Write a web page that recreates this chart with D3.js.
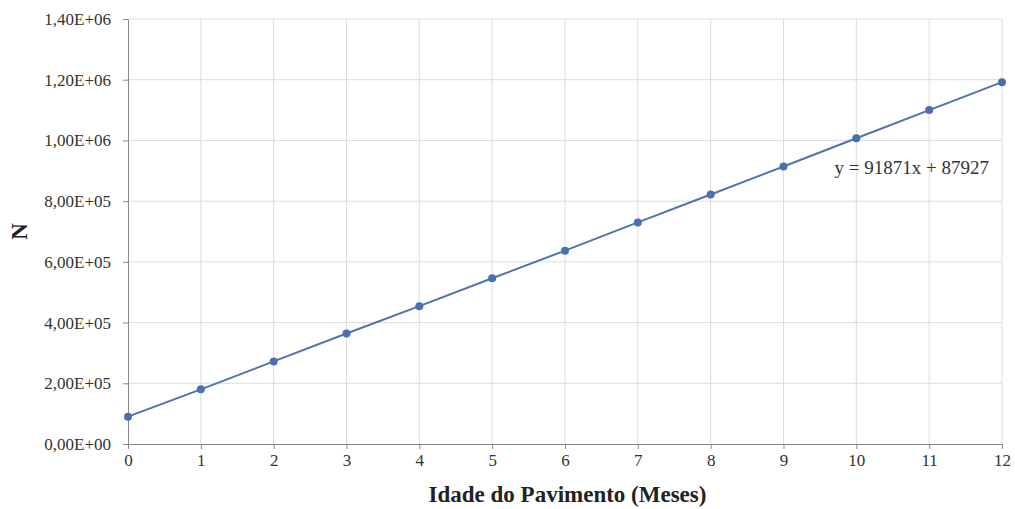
<!DOCTYPE html>
<html>
<head>
<meta charset="utf-8">
<script src="https://cdn.jsdelivr.net/npm/d3@7"></script>
<style>
  body { margin: 0; background: #fff; }
  svg { display: block; }
  text { font-family: "Liberation Serif", "Times New Roman", serif; }
</style>
</head>
<body>
<div id="chart"></div>
<script>
// months since pavement opening and cumulative N
const months = [0, 1, 2, 3, 4, 5, 6, 7, 8, 9, 10, 11, 12];
const nValues = [90000, 180000, 272000, 364000, 454000, 546000, 637000, 730000, 822000, 914000, 1007000, 1100000, 1192000];
const yTicks = [0, 200000, 400000, 600000, 800000, 1000000, 1200000, 1400000];
const equation = 'y = 91871x + 87927';

const width = 1015;
const height = 509;
const margin = { top: 19, right: 13, bottom: 65, left: 128 };
const innerWidth = width - margin.left - margin.right;
const innerHeight = height - margin.top - margin.bottom;

const svg = d3.select('#chart')
  .append('svg')
  .attr('width', width)
  .attr('height', height)
  .append('g')
  .attr('transform', `translate(${margin.left},${margin.top})`);

const x = d3.scaleLinear().domain([0, 12]).range([0, innerWidth]);
const y = d3.scaleLinear().domain([0, 1400000]).range([innerHeight, 0]);

const fmt = v => {
  const [m, e] = v.toExponential(2).split('e');
  const exp = (e[0] === '-' ? '-' : '+') + e.replace(/[+-]/, '').padStart(2, '0');
  return m.replace('.', ',') + 'E' + exp;
};

// grid
svg.append('g')
  .selectAll('line')
  .data(yTicks.slice(1))
  .enter().append('line')
  .attr('x1', 0).attr('x2', innerWidth)
  .attr('y1', d => y(d)).attr('y2', d => y(d))
  .attr('stroke', '#dcdcdc').attr('stroke-width', 1);

svg.append('g')
  .selectAll('line')
  .data(months.slice(1))
  .enter().append('line')
  .attr('x1', d => x(d)).attr('x2', d => x(d))
  .attr('y1', 0).attr('y2', innerHeight)
  .attr('stroke', '#dcdcdc').attr('stroke-width', 1);

// axes
const xAxis = svg.append('g')
  .attr('transform', `translate(0,${innerHeight})`)
  .call(d3.axisBottom(x).tickValues(months).tickFormat(d3.format('d')).tickSize(5).tickSizeOuter(0));
xAxis.attr('font-family', '"Liberation Serif", serif').attr('font-size', 17);
xAxis.select('.domain').attr('stroke', '#888');
xAxis.selectAll('.tick line').attr('stroke', '#888');
xAxis.selectAll('text')
  .attr('y', 10)
  .attr('fill', '#333');

const yAxis = svg.append('g')
  .call(d3.axisLeft(y).tickValues(yTicks).tickFormat(fmt).tickSize(5).tickSizeOuter(0));
yAxis.attr('font-family', '"Liberation Serif", serif').attr('font-size', 17);
yAxis.select('.domain').attr('stroke', '#888');
yAxis.selectAll('.tick line').attr('stroke', '#888');
yAxis.selectAll('text')
  .attr('x', -17)
  .attr('fill', '#333');

// series
const data = months.map((m, i) => ({ m, n: nValues[i] }));

svg.append('path')
  .datum(data)
  .attr('fill', 'none')
  .attr('stroke', '#4f74ac')
  .attr('stroke-width', 2)
  .attr('d', d3.line().x(d => x(d.m)).y(d => y(d.n)));

svg.selectAll('.pt')
  .data(data)
  .enter().append('circle')
  .attr('class', 'pt')
  .attr('cx', d => x(d.m))
  .attr('cy', d => y(d.n))
  .attr('r', 4)
  .attr('fill', '#4a70b0');

// trendline equation
svg.append('text')
  .attr('x', x(9.7))
  .attr('y', y(900000) + 3)
  .attr('font-size', '19px')
  .attr('fill', '#333')
  .text(equation);

// titles
svg.append('text')
  .attr('x', (427 + 708) / 2 - margin.left)
  .attr('y', innerHeight + 58)
  .attr('text-anchor', 'middle')
  .attr('font-size', '23px')
  .attr('font-weight', 'bold')
  .attr('fill', '#222')
  .text('Idade do Pavimento (Meses)');

svg.append('text')
  .attr('transform', 'rotate(-90)')
  .attr('x', -innerHeight / 2)
  .attr('y', -101)
  .attr('text-anchor', 'middle')
  .attr('font-size', '23px')
  .attr('font-weight', 'bold')
  .attr('fill', '#222')
  .text('N');
</script>
</body>
</html>
